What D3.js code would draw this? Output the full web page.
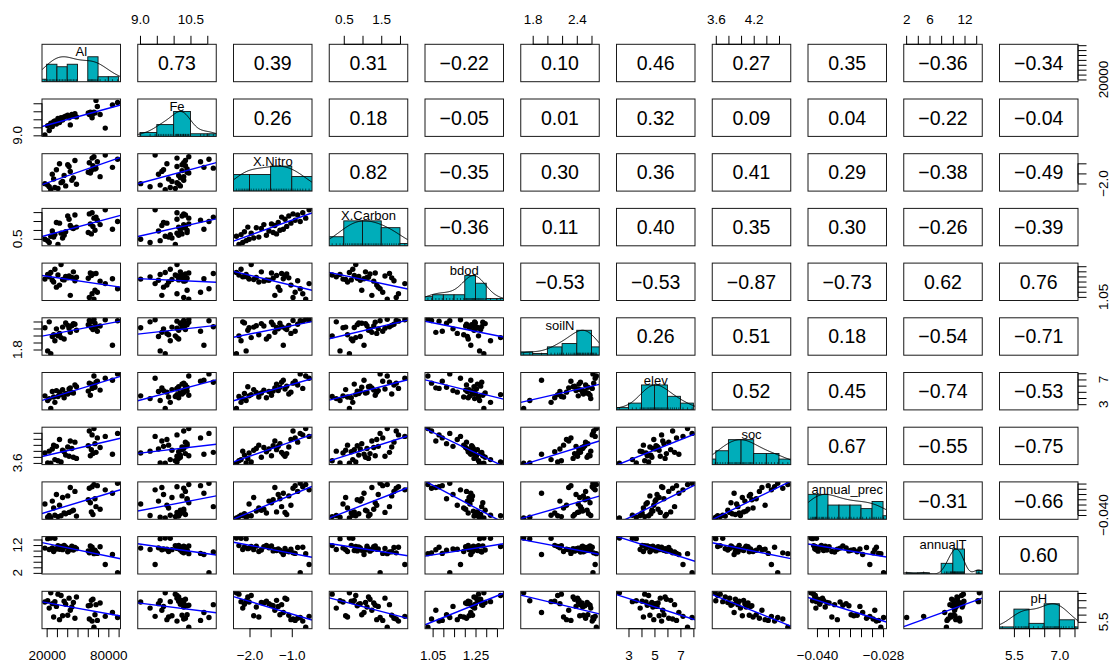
<!DOCTYPE html>
<html>
<head>
<meta charset="utf-8">
<script src="https://cdn.jsdelivr.net/npm/d3@7"></script>
<style>
  body { margin: 0; background: #fff; }
  text { font-family: "Liberation Sans", Arial, Helvetica, sans-serif; }
</style>
</head>
<body>
<svg id="pairs-svg" width="1114" height="662"></svg>
<script>
// variable names (diagonal labels)
const varNames = ["Al", "Fe", "X.Nitro", "X.Carbon", "bdod", "soilN", "elev", "soc", "annual_prec", "annualT", "pH"];

const Al = [18300, 21000, 22500, 24000, 25500, 26800, 28000, 29500, 31000, 32500, 34000, 35500, 37000, 38500, 40500, 41800, 43000, 44500,
    46000, 47500, 49000, 60500, 61500, 62500, 63500, 64200, 65000, 66000, 67000, 68000, 69300, 72000, 77000, 84000, 89000];
const Fe = [9.02, 9.60, 9.30, 9.75, 9.55, 9.85, 9.90, 9.70, 10.05, 9.80, 10.10, 9.95, 10.15, 10.20, 10.25, 10.10, 9.65, 10.30,
    10.20, 10.35, 10.15, 10.40, 10.30, 10.45, 10.25, 10.10, 10.35, 10.45, 10.40, 11.18, 10.80, 10.30, 9.45, 10.90, 11.05];
const XNitro = [-2.01, -2.08, -2.16, -2.31, -1.54, -1.78, -2.20, -1.32, -2.25, -1.02, -1.96, -1.90, -1.60, -2.12, -1.07, -1.16, -1.40, -1.84,
    -1.72, -0.86, -2.04, -1.44, -0.97, -1.48, -1.36, -0.74, -1.12, -0.67, -1.28, -1.24, -0.92, -1.66, -0.59, -1.20, -0.80];
const XCarbon = [0.48, 0.40, 0.30, 0.65, 0.94, 0.60, 0.74, 1.42, 0.19, 1.38, 0.82, 0.55, 0.70, 0.90, 1.78, 1.60, 1.25, 1.12,
    1.08, 1.84, 1.16, 0.86, 1.90, 1.34, 0.78, 1.96, 1.20, 1.66, 0.98, 1.72, 1.54, 1.30, 2.13, 1.04, 1.47];
const bdod = [1.224, 1.269, 1.246, 1.289, 1.212, 1.195, 1.320, 1.145, 1.264, 1.165, 1.367, 1.220, 1.216, 1.249, 1.236, 1.254, 1.065, 1.240,
    1.295, 1.208, 1.243, 1.232, 1.045, 1.284, 1.259, 1.080, 1.274, 1.028, 1.115, 1.279, 1.095, 1.204, 1.180, 1.228, 1.130];
const soilN = [2.42, 1.76, 2.59, 1.677, 2.17, 2.22, 2.05, 2.39, 2.19, 2.26, 2.14, 2.44, 2.10, 2.56, 2.49, 2.41, 2.29, 2.48,
    2.54, 2.52, 2.35, 2.51, 2.63, 2.58, 2.43, 2.61, 2.37, 2.666, 2.55, 2.45, 2.32, 2.47, 2.65, 1.92, 2.62];
const elev = [4.35, 3.6, 3.9, 2.30, 5.05, 4.15, 3.3, 5.2, 4.25, 4.95, 4.55, 5.36, 4.05, 4.72, 4.65, 5.45, 5.64, 4.88,
    4.8, 6.1, 5.82, 5.12, 6.4, 4.45, 6.25, 5.55, 5.92, 7.55, 5.73, 6.55, 6.7, 5.28, 7.2, 6.88, 7.90];
const soc = [3.93, 3.60, 3.99, 3.59, 4.06, 4.19, 3.71, 4.15, 3.67, 4.38, 3.63, 4.02, 3.97, 3.86, 4.13, 3.82, 4.33, 4.08,
    3.79, 4.29, 3.75, 4.17, 4.66, 3.84, 4.04, 4.53, 3.91, 4.74, 4.24, 3.95, 4.43, 4.11, 4.48, 3.89, 4.58];
const annualPrec = [-0.0358, -0.0408, -0.0402, -0.0411, -0.0347, -0.0373, -0.0401, -0.0322, -0.0406, -0.0363, -0.0403, -0.0333, -0.0392,
    -0.0395, -0.0327, -0.0390, -0.0295, -0.0385, -0.0382, -0.0310, -0.0404, -0.0342, -0.0298, -0.0353, -0.0388, -0.0292, -0.0398,
    -0.0284, -0.0338, -0.0368, -0.0288, -0.0378, -0.0304, -0.0317, -0.0279];
const annualT = [10.9, 14.3, 10.4, 14.54, 11.0, 9.7, 14.4, 10.6, 11.8, 10.5, 11.5, 10.35, 11.9, 11.3, 9.6, 10.8, 10.3, 11.6,
    10.2, 11.1, 10.7, 9.9, 9.2, 11.7, 10.05, 11.2, 9.8, 8.9, 10.15, 9.5, 9.0, 11.4, 5.0, 8.6, 2.09];
const pH = [6.87, 6.96, 6.45, 7.52, 6.76, 5.84, 6.90, 6.57, 7.42, 5.65, 7.32, 5.92, 6.93, 6.72, 5.96, 7.14, 6.30, 6.53,
    6.84, 5.75, 7.22, 6.61, 5.70, 6.65, 6.99, 5.55, 7.06, 5.12, 5.99, 6.69, 5.60, 6.80, 5.88, 6.15, 5.80];

const columns = [Al, Fe, XNitro, XCarbon, bdod, soilN, elev, soc, annualPrec, annualT, pH];

// correlations printed in the upper panels, row by row (columns right of the diagonal)
const corAl = [0.73, 0.39, 0.31, -0.22, 0.10, 0.46, 0.27, 0.35, -0.36, -0.34];
const corFe = [0.26, 0.18, -0.05, 0.01, 0.32, 0.09, 0.04, -0.22, -0.04];
const corXNitro = [0.82, -0.35, 0.30, 0.36, 0.41, 0.29, -0.38, -0.49];
const corXCarbon = [-0.36, 0.11, 0.40, 0.35, 0.30, -0.26, -0.39];
const corBdod = [-0.53, -0.53, -0.87, -0.73, 0.62, 0.76];
const corSoilN = [0.26, 0.51, 0.18, -0.54, -0.71];
const corElev = [0.52, 0.45, -0.74, -0.53];
const corSoc = [0.67, -0.55, -0.75];
const corPrec = [-0.31, -0.66];
const corAnnualT = [0.60];
const corRows = [corAl, corFe, corXNitro, corXCarbon, corBdod, corSoilN, corElev, corSoc, corPrec, corAnnualT];

// histogram bin widths
const histSteps = [10000, 0.5, 0.5, 0.5, 0.05, 0.2, 1, 0.2, 0.002, 2, 0.5];

// axis ticks, labels on outer (top/bottom) axes and on side (left/right) axes
const axisTicks = [
    [20000, 30000, 40000, 50000, 60000, 70000, 80000, 90000],
    [9.0, 9.5, 10.0, 10.5, 11.0],
    [-2.0, -1.5, -1.0],
    [0.5, 1.0, 1.5, 2.0],
    [1.05, 1.10, 1.15, 1.20, 1.25, 1.30, 1.35],
    [1.8, 2.0, 2.2, 2.4, 2.6],
    [3, 4, 5, 6, 7, 8],
    [3.6, 3.8, 4.0, 4.2, 4.4, 4.6],
    [-0.040, -0.038, -0.036, -0.034, -0.032, -0.030, -0.028],
    [2, 4, 6, 8, 10, 12, 14],
    [5.5, 6.0, 6.5, 7.0, 7.5]];
const outerLabels = [[20000, 80000], [9.0, 10.5], [-2.0, -1.0], [0.5, 1.5], [1.05, 1.25], [1.8, 2.4], [3, 5, 7], [3.6, 4.2],
    [-0.040, -0.028], [2, 6, 12], [5.5, 7.0]];
const sideLabels = [[20000], [9.0], [-2.0], [0.5], [1.05], [1.8], [3, 7], [3.6], [-0.040], [2, 12], [5.5]];
const axisFormats = ["d", ".1f", ".1f", ".1f", ".2f", ".1f", "d", ".1f", ".3f", "d", ".1f"];

// LAYOUT //
const NV = varNames.length;
const PANEL = {x0: 42, dx: 95.75, w: 78.5, y0: 44.3, dy: 54.7, h: 37.4};
const TICK = 8.5;
const HIST_COL = "#00ADBA";

const svg = d3.select("#pairs-svg");

svg.append("defs").append("clipPath")
    .attr("id", "panel-clip")
    .append("rect")
    .attr("width", PANEL.w)
    .attr("height", PANEL.h);

// R style axis ranges: data range widened by 4% each side
function padded(col) {
    const [lo, hi] = d3.extent(col);
    const pad = (hi - lo) * 0.04;
    return [lo - pad, hi + pad];
}
const xScales = columns.map((col) => d3.scaleLinear().domain(padded(col)).range([0, PANEL.w]));
const yScales = columns.map((col) => d3.scaleLinear().domain(padded(col)).range([PANEL.h, 0]));

const corFormat = d3.format(".2f");

function panelGroup(i, j) {
    return svg.append("g")
        .attr("transform", `translate(${PANEL.x0 + j * PANEL.dx}, ${PANEL.y0 + i * PANEL.dy})`);
}

function drawBorder(g) {
    g.append("rect")
        .attr("width", PANEL.w)
        .attr("height", PANEL.h)
        .attr("fill", "none")
        .attr("stroke", "#1a1a1a")
        .attr("stroke-width", 1);
}

// upper panels: correlation value
function drawCor(g, value) {
    g.append("text")
        .attr("x", PANEL.w / 2)
        .attr("y", PANEL.h / 2 + 7)
        .attr("text-anchor", "middle")
        .style("font-size", "19.5px")
        .text(corFormat(value));
    drawBorder(g);
}

// diagonal panels: histogram + density + rug + name
function drawHist(g, k) {
    const col = columns[k];
    const step = histSteps[k];
    const x = xScales[k];
    const yh = d3.scaleLinear().domain([0, 1.5]).range([PANEL.h, 0]);

    // right-closed bins like R's hist
    const start = (Math.ceil(d3.min(col) / step - 1e-9) - 1) * step;
    const bins = [];
    col.forEach((v) => {
        const b = Math.max(0, Math.ceil((v - start) / step - 1e-9) - 1);
        bins[b] = (bins[b] || 0) + 1;
    });
    const counts = d3.range(bins.length).map((b) => bins[b] || 0);
    const maxCount = d3.max(counts);

    const inner = g.append("g").attr("clip-path", "url(#panel-clip)");

    inner.selectAll("rect")
        .data(counts)
        .enter()
        .append("rect")
        .attr("x", (d, b) => x(start + b * step))
        .attr("width", (d, b) => x(start + (b + 1) * step) - x(start + b * step))
        .attr("y", (d) => yh(d / maxCount))
        .attr("height", (d) => PANEL.h - yh(d / maxCount))
        .attr("fill", HIST_COL)
        .attr("stroke", "#111")
        .attr("stroke-width", 0.9);

    // density, bw.nrd * 1.2, scaled to max 1
    const sorted = col.slice().sort(d3.ascending);
    const iqr = d3.quantile(sorted, 0.75) - d3.quantile(sorted, 0.25);
    const bw = 1.2 * 1.06 * Math.min(d3.deviation(col), iqr / 1.34) * Math.pow(col.length, -0.2);
    const lo = d3.min(col) - 3 * bw, hi = d3.max(col) + 3 * bw;
    const dens = d3.range(256).map((t) => {
        const xv = lo + (hi - lo) * t / 255;
        return [xv, d3.sum(col, (v) => Math.exp(-0.5 * ((xv - v) / bw) ** 2))];
    });
    const dMax = d3.max(dens, (d) => d[1]);

    inner.append("path")
        .datum(dens)
        .attr("d", d3.line()
            .x((d) => x(d[0]))
            .y((d) => yh(d[1] / dMax)))
        .attr("fill", "none")
        .attr("stroke", "#000")
        .attr("stroke-width", 1);

    // rug
    inner.selectAll("line.rug")
        .data(col)
        .enter()
        .append("line")
        .attr("class", "rug")
        .attr("x1", (d) => x(d))
        .attr("x2", (d) => x(d))
        .attr("y1", PANEL.h)
        .attr("y2", PANEL.h - 2.5)
        .attr("stroke", "#000")
        .attr("stroke-width", 0.6);

    g.append("text")
        .attr("x", PANEL.w / 2)
        .attr("y", 12)
        .attr("text-anchor", "middle")
        .style("font-size", "13px")
        .text(varNames[k]);

    drawBorder(g);
}

// lower panels: scatter + least squares line
function drawScatter(g, i, j) {
    const xs = columns[j], ys = columns[i];
    const x = xScales[j], y = yScales[i];
    const mx = d3.mean(xs), my = d3.mean(ys);
    const sxy = d3.sum(xs, (v, k) => (v - mx) * (ys[k] - my));
    const sxx = d3.sum(xs, (v) => (v - mx) ** 2);
    const slope = sxy / sxx;
    const icept = my - slope * mx;

    const inner = g.append("g").attr("clip-path", "url(#panel-clip)");

    inner.selectAll("circle")
        .data(xs)
        .enter()
        .append("circle")
        .attr("cx", (d) => x(d))
        .attr("cy", (d, k) => y(ys[k]))
        .attr("r", 2.7)
        .attr("fill", "#000");

    const [d0, d1] = x.domain();
    inner.append("line")
        .attr("x1", x(d0))
        .attr("x2", x(d1))
        .attr("y1", y(icept + slope * d0))
        .attr("y2", y(icept + slope * d1))
        .attr("stroke", "#0000ff")
        .attr("stroke-width", 1.4);

    drawBorder(g);
}

for (let i = 0; i < NV; i++) {
    for (let j = 0; j < NV; j++) {
        const g = panelGroup(i, j);
        if (i < j) drawCor(g, corRows[i][j - i - 1]);
        else if (i === j) drawHist(g, i);
        else drawScatter(g, i, j);
    }
}

// AXES //
const hasLabel = (list, v) => list.some((l) => Math.abs(l - v) < 1e-9);

function baseLine(g, pos, horizontal) {
    const lo = d3.min(pos), hi = d3.max(pos);
    g.append("line")
        .attr(horizontal ? "x1" : "y1", lo)
        .attr(horizontal ? "x2" : "y2", hi)
        .attr("stroke", "#000");
}

for (let k = 0; k < NV; k++) {
    const fmt = d3.format(axisFormats[k]);
    const ticks = axisTicks[k];

    // top (odd columns) or bottom (even columns)
    const top = k % 2 === 1;
    const gx = panelGroup(top ? 0 : NV - 1, k);
    const axisX = (top ? d3.axisTop(xScales[k]) : d3.axisBottom(xScales[k]))
        .tickValues(ticks)
        .tickSize(TICK)
        .tickSizeOuter(0)
        .tickPadding(top ? 11.5 : 12.8)
        .tickFormat((v) => hasLabel(outerLabels[k], v) ? fmt(v) : "");
    const ax = gx.append("g")
        .attr("transform", `translate(0, ${top ? 0 : PANEL.h})`)
        .call(axisX)
        .attr("font-size", null)
        .attr("font-family", null);
    ax.select(".domain").remove();
    ax.selectAll("text").style("font-size", "13.5px").attr("fill", "#000");
    ax.selectAll("line").attr("stroke", "#000");
    baseLine(ax, ticks.map((v) => xScales[k](v)), true);

    // left (odd rows) or right (even rows)
    const left = k % 2 === 1;
    const gy = panelGroup(k, left ? 0 : NV - 1);
    const axisY = (left ? d3.axisLeft(yScales[k]) : d3.axisRight(yScales[k]))
        .tickValues(ticks)
        .tickSize(TICK)
        .tickSizeOuter(0)
        .tickFormat("");
    const ay = gy.append("g")
        .attr("transform", `translate(${left ? 0 : PANEL.w}, 0)`)
        .call(axisY);
    ay.select(".domain").remove();
    ay.selectAll("line").attr("stroke", "#000");
    baseLine(ay, ticks.map((v) => yScales[k](v)), false);

    const lx = left ? -20.3 : 30.3;
    sideLabels[k].forEach((v) => {
        const ty = yScales[k](v);
        ay.append("text")
            .attr("transform", `translate(${lx}, ${ty}) rotate(-90)`)
            .attr("text-anchor", "middle")
            .style("font-size", "13.5px")
            .attr("fill", "#000")
            .text(fmt(v));
    });
}
</script>
</body>
</html>
